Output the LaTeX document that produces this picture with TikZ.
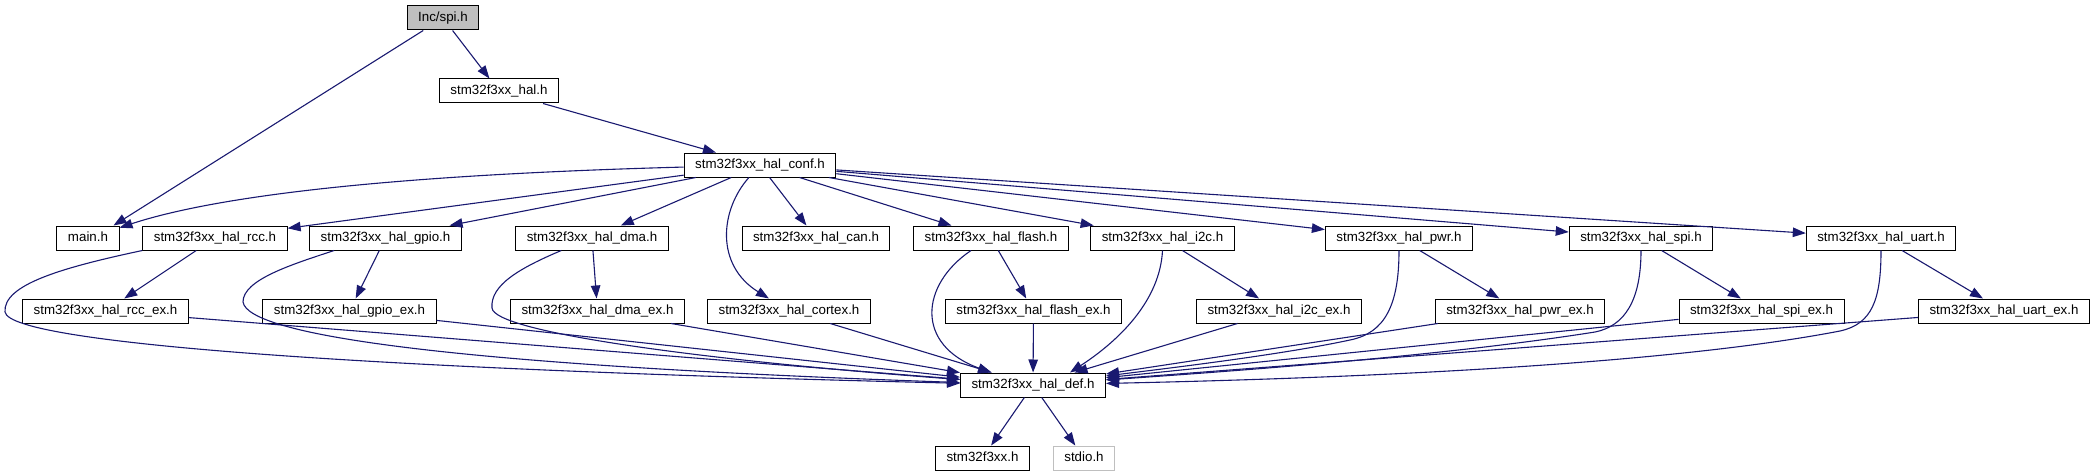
\documentclass[tikz,border=0pt]{standalone}
\usepackage{fontspec}
\setmainfont{Liberation Sans}
\usetikzlibrary{arrows.meta,calc}
\definecolor{edgeblue}{HTML}{191970}
\definecolor{greyS}{HTML}{BFBFBF}
\begin{document}
\begin{tikzpicture}[x=1pt,y=-1pt,
  box/.style={draw=black, line width=1pt, fill=white, minimum height=24pt,
    inner xsep=11pt, inner ysep=0pt, font=\fontsize{13.33}{15}\selectfont,
    text height=10pt, text depth=2.5pt},
  rootbox/.style={box, fill=greyS},
  extbox/.style={box, draw=greyS},
  dep/.style={draw=edgeblue, line width=1.1pt, -{Triangle[length=13pt,width=9.5pt]}}]
\useasboundingbox (0,0) rectangle (2095,476);
% nodes
\node[rootbox] (spi) at (443,18) {Inc/spi.h};
\node[box] (hal) at (499,91) {stm32f3xx\_hal.h};
\node[box] (conf) at (760,165) {stm32f3xx\_hal\_conf.h};
\node[box] (main) at (88,238) {main.h};
\node[box] (rcc) at (215,238) {stm32f3xx\_hal\_rcc.h};
\node[box] (gpio) at (385.5,238) {stm32f3xx\_hal\_gpio.h};
\node[box] (dma) at (592,238) {stm32f3xx\_hal\_dma.h};
\node[box] (can) at (816,238) {stm32f3xx\_hal\_can.h};
\node[box] (flash) at (991,238) {stm32f3xx\_hal\_flash.h};
\node[box] (i2c) at (1162.5,238) {stm32f3xx\_hal\_i2c.h};
\node[box] (pwr) at (1399,238) {stm32f3xx\_hal\_pwr.h};
\node[box] (hspi) at (1641,238) {stm32f3xx\_hal\_spi.h};
\node[box] (uart) at (1881,238) {stm32f3xx\_hal\_uart.h};
\node[box] (rccex) at (105.5,311) {stm32f3xx\_hal\_rcc\_ex.h};
\node[box] (gpioex) at (349.5,311) {stm32f3xx\_hal\_gpio\_ex.h};
\node[box] (dmaex) at (597.5,311) {stm32f3xx\_hal\_dma\_ex.h};
\node[box] (cortex) at (789,311) {stm32f3xx\_hal\_cortex.h};
\node[box] (flashex) at (1033.5,311) {stm32f3xx\_hal\_flash\_ex.h};
\node[box] (i2cex) at (1279,311) {stm32f3xx\_hal\_i2c\_ex.h};
\node[box] (pwrex) at (1520,311) {stm32f3xx\_hal\_pwr\_ex.h};
\node[box] (spiex) at (1761.5,311) {stm32f3xx\_hal\_spi\_ex.h};
\node[box] (uartex) at (2004,311) {stm32f3xx\_hal\_uart\_ex.h};
\node[box] (def) at (1033,385) {stm32f3xx\_hal\_def.h};
\node[box] (f3) at (982.5,458) {stm32f3xx.h};
\node[extbox] (stdio) at (1084,458) {stdio.h};
% edges
\draw[dep] (spi) -- ($(main.north east)+(-6,0)$);
\draw[dep] (spi) -- (hal);
\draw[dep] (hal) -- (conf);
\draw[dep] (conf) .. controls (500,172) and (250,185) .. (main);
\draw[dep] (conf) -- (rcc);
\draw[dep] (conf) -- (gpio);
\draw[dep] (conf) -- (dma);
\draw[dep] (conf) .. controls (720,210) and (715,265) .. (cortex);
\draw[dep] (conf) -- (can);
\draw[dep] (conf) -- (flash);
\draw[dep] (conf) -- (i2c);
\draw[dep] (conf) -- (pwr);
\draw[dep] (conf) -- (hspi);
\draw[dep] (conf) -- (uart);
\draw[dep] (rcc) -- (rccex);
\draw[dep] (gpio) -- (gpioex);
\draw[dep] (dma) -- (dmaex);
\draw[dep] (flash) -- (flashex);
\draw[dep] (i2c) -- (i2cex);
\draw[dep] (pwr) -- (pwrex);
\draw[dep] (hspi) -- (spiex);
\draw[dep] (uart) -- (uartex);
% to hal_def
\draw[dep] (rcc.south west) .. controls (60,268) and (3,285) .. (5,312) .. controls (10,345) and (400,370) .. (def);
\draw[dep] (rccex) -- (def);
\draw[dep] ($(gpio.south west)+(25,0)$) .. controls (290,265) and (243,280) .. (243,302) .. controls (248,335) and (450,365) .. (def);
\draw[dep] (gpioex) -- (def);
\draw[dep] ($(dma.south west)+(46,0)$) .. controls (520,268) and (490,285) .. (492,308) .. controls (494,332) and (700,360) .. (def);
\draw[dep] (dmaex) -- (def);
\draw[dep] (cortex) -- (def);
\draw[dep] ($(flash.south)+(-20,0)$) .. controls (920,285) and (915,345) .. ($(def.north)+(-42,0)$);
\draw[dep] (flashex) -- (def);
\draw[dep] (i2c.south) .. controls (1160,300) and (1120,340) .. ($(def.north)+(37,0)$);
\draw[dep] (i2cex) -- (def);
\draw[dep] (pwr.south) .. controls (1399,305) and (1385,333) .. (1350,340) .. controls (1280,355) and (1170,368) .. (def);
\draw[dep] (pwrex) -- (def);
\draw[dep] (hspi.south) .. controls (1641,300) and (1625,326) .. (1595,332) .. controls (1450,355) and (1250,370) .. (def);
\draw[dep] (spiex) -- (def);
\draw[dep] (uart.south) .. controls (1881,300) and (1872,324) .. (1840,331) .. controls (1700,358) and (1450,376) .. (def);
\draw[dep] (uartex) -- (def);
\draw[dep] (def) -- (f3);
\draw[dep] (def) -- (stdio);
\end{tikzpicture}
\end{document}
